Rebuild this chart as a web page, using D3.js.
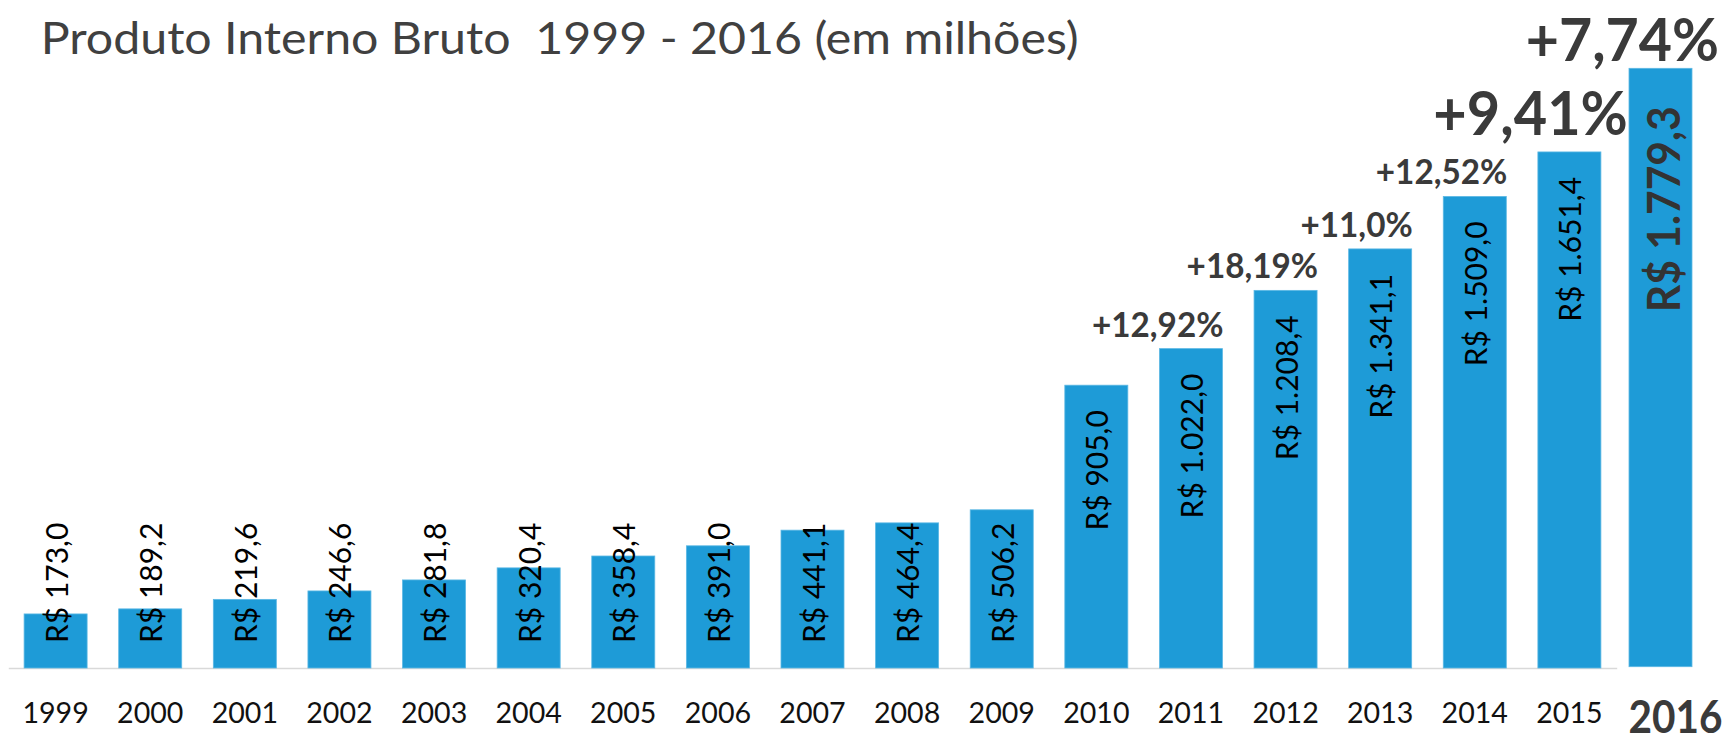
<!DOCTYPE html>
<html><head><meta charset="utf-8">
<script src="https://cdn.jsdelivr.net/npm/d3@7"></script>
<style>
html,body{margin:0;padding:0;background:#fff;}
svg{display:block;font-family:Lato,"Open Sans",sans-serif;}
</style></head><body>
<svg id="chart" width="1736" height="746"></svg>
<script>
// ---- data ----
const years = ["1999","2000","2001","2002","2003","2004","2005","2006","2007","2008","2009","2010","2011","2012","2013","2014","2015"];
const values = [173.0,189.2,219.6,246.6,281.8,320.4,358.4,391.0,441.1,464.4,506.2,905.0,1022.0,1208.4,1341.1,1509.0,1651.4];
const highlightYears = ["2016"];
const highlightValues = [1779.3];
const growthYears = ["2011","2012","2013","2014","2015","2016"];
const growthLabels = ["+12,92%","+18,19%","+11,0%","+12,52%","+9,41%","+7,74%"];
const emphasizedGrowth = ["2015","2016"];
const titleText = "Produto Interno Bruto  1999 - 2016 (em milhões)";

// ---- styles ----
const barColor = "#1e9bd7", barEdge = "#5cb8e4";
const darkText = "#3a3a3a";

const locale = d3.formatLocale({decimal:",", thousands:".", grouping:[3], currency:["R$ ",""]});
const fmt = locale.format("$,.1f");

const svg = d3.select("#chart");

function condense(sel, factor){
  sel.each(function(){
    const n = this.getComputedTextLength();
    this.setAttribute("textLength", n*factor);
    this.setAttribute("lengthAdjust","spacingAndGlyphs");
  });
  return sel;
}

// ---- scales ----
const x = d3.scaleBand().domain(years).range([8.3,1616.7]).paddingInner(0.334).paddingOuter(0.167);
const y = d3.scaleLinear().domain([0,2000]).range([668,43]);
const xH = d3.scaleBand().domain(highlightYears).range([1629,1692]);
const yH = d3.scaleLinear().domain([0,2000]).range([666.7,-5.9]);

// ---- title ----
svg.append("text")
  .attr("x",40.7).attr("y",54)
  .attr("font-size",45).attr("fill","#404040")
  .style("white-space","pre")
  .attr("textLength",1038).attr("lengthAdjust","spacingAndGlyphs")
  .text(titleText);

// ---- axis ----
const gx = svg.append("g").attr("transform","translate(0,668)")
  .call(d3.axisBottom(x).tickSize(0).tickSizeOuter(0).tickPadding(35));
gx.select(".domain").attr("stroke","#d9d9d9").attr("stroke-width",1.5);
gx.selectAll(".tick text").attr("font-size",28.6).attr("fill","#111").attr("font-family","Lato");

const gxH = svg.append("g").attr("transform","translate(15,666.7)")
  .call(d3.axisBottom(xH).tickSize(0).tickSizeOuter(0).tickPadding(34));
gxH.select(".domain").remove();
gxH.selectAll(".tick text").attr("font-size",45).attr("font-weight","bold")
  .attr("fill",darkText).attr("font-family","Lato");
condense(gxH.selectAll(".tick text"),0.9);

// ---- bars ----
const mainData = years.map((yr,i)=>({year:yr, value:values[i], xs:x, ys:y, hi:false}));
const hiData = highlightYears.map((yr,i)=>({year:yr, value:highlightValues[i], xs:xH, ys:yH, hi:true}));
const all = mainData.concat(hiData);

svg.append("g").selectAll("rect").data(all).join("rect")
  .attr("x",d=>d.xs(d.year)).attr("width",d=>d.xs.bandwidth())
  .attr("y",d=>d.ys(d.value)).attr("height",d=>d.ys(0)-d.ys(d.value))
  .attr("fill",barColor).attr("stroke",barEdge).attr("stroke-width",0.8);

// ---- value labels (rotated) ----
const vl = svg.append("g");
all.forEach(d=>{
  const cx = d.xs(d.year)+d.xs.bandwidth()/2;
  const top = d.ys(d.value), base = d.ys(0);
  const t = vl.append("text")
    .attr("font-size", d.hi?46:30)
    .attr("font-weight", d.hi?"bold":"normal")
    .attr("fill", d.hi?"#333":"#000")
    .text(fmt(d.value));
  if(d.hi) condense(t,0.925);
  const len = d.hi ? +t.attr("textLength") : t.node().getComputedTextLength();
  const gap = d.hi ? 38 : 25;
  let py, anchor;
  if(base - top - gap - 25 > len){ py = top+gap; anchor="end"; }
  else { py = base-25; anchor="start"; }
  const xoff = d.hi ? 19.6 : 12;
  const yy = anchor==="end" ? py+len : py;
  t.attr("text-anchor","start")
   .attr("transform",`translate(${cx+xoff},${yy}) rotate(-90)`);
});

// ---- growth labels ----
const gl = svg.append("g");
growthYears.forEach((yr,i)=>{
  const d = all.find(a=>a.year===yr);
  const big = emphasizedGrowth.includes(yr);
  const last = yr==="2016";
  const right = d.xs(d.year)+d.xs.bandwidth() + (big?27:1);
  const top = d.ys(d.value);
  const t = gl.append("text")
    .attr("font-size", big?(last?60:62):35).attr("font-weight","bold")
    .attr("fill",darkText)
    .attr("y", top-(big?(last?7:17):12))
    .text(growthLabels[i]);
  condense(t, big?(last?0.955:0.93):0.95);
  const len = +t.attr("textLength");
  t.attr("x", right-len);
});
</script>
</body></html>
